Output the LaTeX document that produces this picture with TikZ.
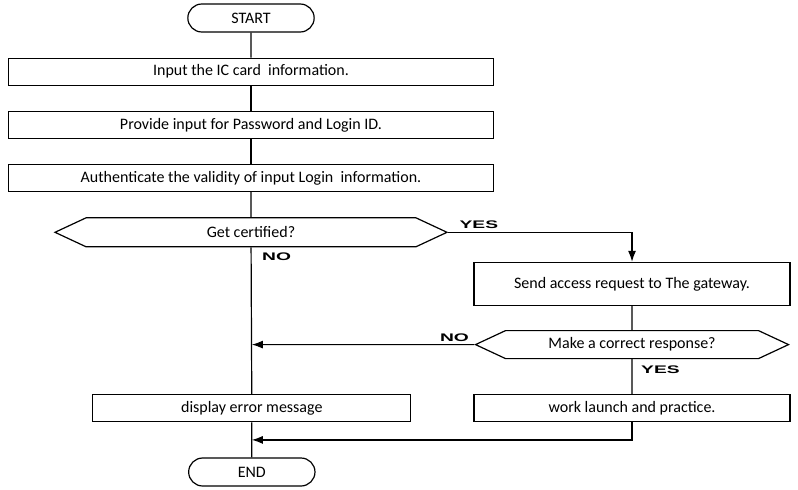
\documentclass[tikz,border=0pt]{standalone}
\usepackage{graphicx}
\usepackage{fontspec}
\setmainfont{Carlito}
\newfontfamily\ynfont{Liberation Sans}
\usetikzlibrary{positioning, calc, shapes.misc, shapes.symbols, arrows.meta}
\newcommand{\yn}[1]{\scalebox{1.75}[1]{#1}}

\begin{document}
\begin{tikzpicture}[x=1pt, y=1pt, font=\fontsize{16}{18}\selectfont,
		term/.style={rounded rectangle, draw, line width=1.2pt, minimum width=133pt, minimum height=28pt},
		proc/.style={rectangle, draw, line width=1.2pt, minimum height=27pt},
		dec/.style={signal, signal to=west and east, signal pointer angle=50, draw, line width=1.2pt, minimum height=29pt},
		flow/.style={line width=1.2pt},
		arr/.style={flow, -{Latex[length=11pt, width=8pt]}},
		yn/.style={font=\ynfont\bfseries\fontsize{11}{12}\selectfont, inner sep=0pt}]
		\useasboundingbox (0,0) rectangle (798,-490);

		% main column
		\node [term] (start) at (251,-18) {START};
		\node [proc, minimum width=485pt, below=25pt of start] (card) {Input the IC card\ \ information.};
		\node [proc, minimum width=485pt, below=25pt of card] (pass) {Provide input for Password and Login ID.};
		\node [proc, minimum width=485pt, below=25pt of pass] (auth) {Authenticate the validity of input Login\ \ information.};
		\node [dec, minimum width=392pt, below=25pt of auth] (cert) {Get certified?};

		% right column
		\node [proc, minimum width=316pt, minimum height=43pt, below right=29.5pt and 25pt of cert.east] (send) {Send access request to The gateway.};
		\node [dec, minimum width=313pt, minimum height=28pt, below=24pt of send] (resp) {Make a correct response?};
		\node [proc, minimum width=316pt, below=35pt of resp] (work) {work launch and practice.};

		\node [proc, minimum width=318pt, left=62pt of work] (disp) {display error message};
		\node [term, below=35pt of disp] (stop) {END};

		\coordinate (nojoin) at (resp -| disp);
		\coordinate (endjoin) at ($(disp.south)!0.5!(stop.north)$);

		\draw[flow] (start) -- (card);
		\draw[flow] (card) -- (pass);
		\draw[flow] (pass) -- (auth);
		\draw[flow] (auth) -- (cert);
		\draw[flow] (cert) -- (disp);
		\draw[flow] (disp) -- (stop);
		\draw[arr] (cert) -| (send);
		\draw[flow] (send) -- (resp);
		\draw[arr] (resp) -- (nojoin);
		\draw[flow] (resp) -- (work);
		\draw[arr] (work) |- (endjoin);

		% labels
		\node [yn, above right=3pt and 11pt of cert.east] (yes1) {\yn{YES}};
		\node [yn, below right=5pt and 11pt of cert.south] (no1) {\yn{NO}};
		\node [yn, above left=3pt and 5pt of resp.west] (no2) {\yn{NO}};
		\node [yn, below right=6pt and 9pt of resp.south] (yes2) {\yn{YES}};
	\end{tikzpicture}
\end{document}
